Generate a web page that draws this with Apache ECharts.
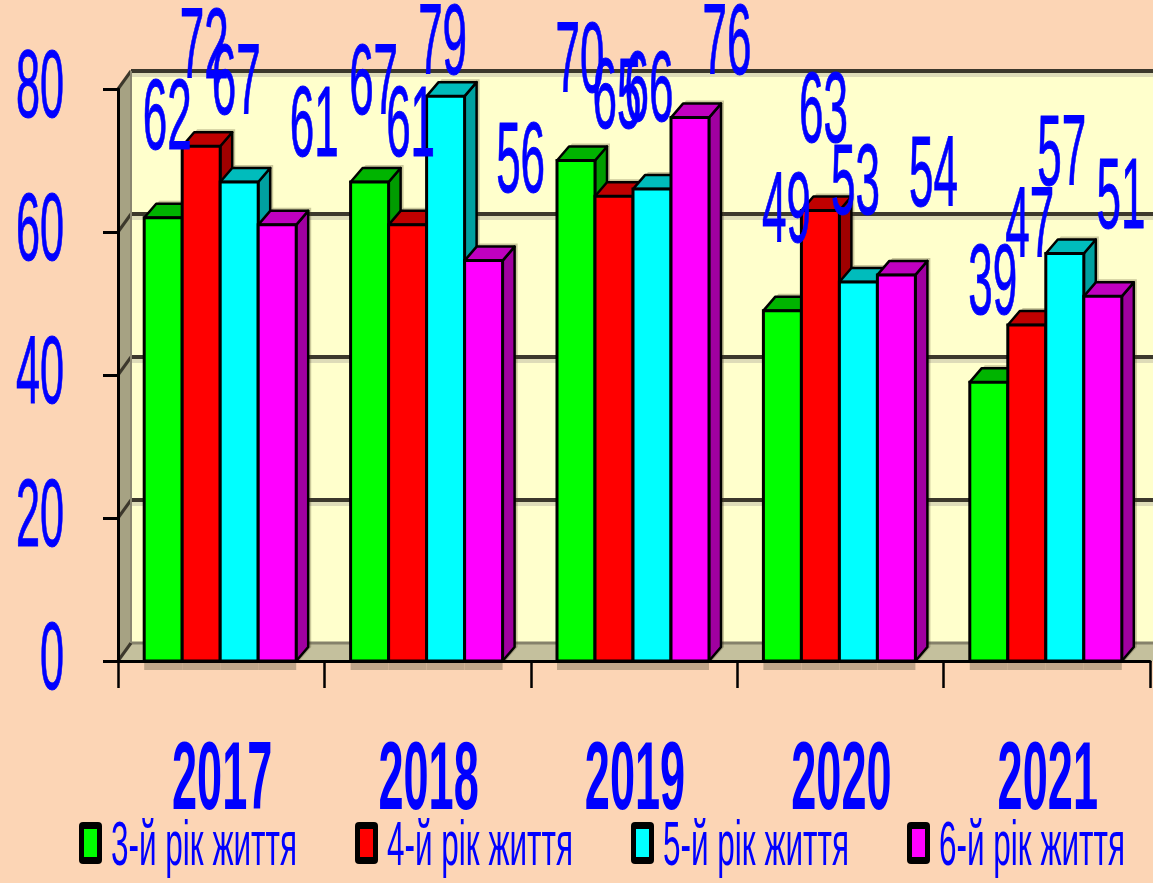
<!DOCTYPE html>
<html><head><meta charset="utf-8">
<script src="https://cdn.jsdelivr.net/npm/echarts@6/dist/echarts.min.js"></script>
<style>html,body{margin:0;padding:0;background:#fcd5b5}#c{width:1153px;height:883px}</style>
</head><body><div id="c"></div><script>
// ---- data ----
const years = ['2017', '2018', '2019', '2020', '2021'];
const seriesNames = ['3-й рік життя', '4-й рік життя', '5-й рік життя', '6-й рік життя'];
const age3 = [62, 67, 70, 49, 39];
const age4 = [72, 61, 65, 63, 47];
const age5 = [67, 79, 66, 53, 57];
const age6 = [61, 56, 76, 54, 51];
const yTicks = [0, 20, 40, 60, 80];

// ---- styles ----
const FRONT = ['#00ff00', '#ff0000', '#00ffff', '#ff00ff'];
const TOP = ['#00b400', '#c00000', '#00bcbc', '#c000c0'];
const SIDE = ['#009c00', '#a00000', '#00a0a0', '#a000a0'];
const BLUE = '#0000ff';
const FONT = '"Liberation Sans", Arial, sans-serif';
const BW = 38, DX = 12, DY = 14, WX = 13, WY = 18;
const LABEL_DX = [4, 3, -3, 37];
const seriesValues = [age3, age4, age5, age6];

function barRender(si) {
  return function (params, api) {
    const cat = api.value(0), v = api.value(1);
    const base = api.coord([cat, 0]);
    const top = api.coord([cat, v]);
    const x = base[0] - 2 * BW - 1 + si * BW;
    const y0 = base[1], yt = top[1];
    const zb = si * 10;
    const lx = Math.min(x + BW / 2 + LABEL_DX[si], api.getWidth() - 32);
    const ly = Math.max(yt - 96, 46);
    return {
      type: 'group',
      children: [
        { type: 'polygon', z2: -50 + si, shape: { points: [[x + 3, y0], [x + 3, yt - 3], [x + DX + 3, yt - DY - 3], [x + BW + DX + 3, yt - DY - 3], [x + BW + DX + 3, y0 - DY], [x + BW + 3, y0]] }, style: { fill: 'rgba(70,60,30,0.28)' } },
        { type: 'rect', z2: -40, shape: { x: x, y: y0 + 2, width: BW, height: 7 }, style: { fill: '#c0a68a' } },
        { type: 'polygon', z2: zb + 1, shape: { points: [[x + BW, yt], [x + BW + DX, yt - DY], [x + BW + DX, y0 - DY], [x + BW, y0]] }, style: { fill: SIDE[si], stroke: '#000', lineWidth: 2.5, lineJoin: 'round' } },
        { type: 'polygon', z2: zb + 2, shape: { points: [[x, yt], [x + DX, yt - DY], [x + BW + DX, yt - DY], [x + BW, yt]] }, style: { fill: TOP[si], stroke: '#000', lineWidth: 2.5, lineJoin: 'round' } },
        { type: 'rect', z2: zb + 3, shape: { x: x, y: yt, width: BW, height: y0 - yt }, style: { fill: FRONT[si], stroke: '#000', lineWidth: 3 } },
        { type: 'text', z2: 200, x: lx, y: ly, scaleX: 0.44, style: { text: String(v), fill: BLUE, stroke: BLUE, lineWidth: 1, fontSize: 100, fontFamily: FONT, align: 'center', verticalAlign: 'middle' } }
      ]
    };
  };
}

function wallRender(params, api) {
  const band = api.size([1, 0])[0];
  const c0 = api.coord([0, 0]);
  const left = c0[0] - band / 2;
  const right = left + band * years.length;
  const y0 = c0[1];
  const yTop = api.coord([0, yTicks[yTicks.length - 1]])[1];
  const children = [
    { type: 'rect', shape: { x: left + WX, y: yTop - WY, width: right - left + 40, height: y0 - yTop }, style: { fill: '#ffffcc' } },
    { type: 'polygon', shape: { points: [[left, yTop], [left + WX, yTop - WY], [left + WX, y0 - WY], [left, y0]] }, style: { fill: '#a6a283' } },
    { type: 'polygon', shape: { points: [[left, y0], [left + WX, y0 - WY], [right + WX + 40, y0 - WY], [right + 40, y0]] }, style: { fill: '#c4c09d' } },
    { type: 'line', shape: { x1: left + WX, y1: y0 - WY, x2: right + 60, y2: y0 - WY }, style: { stroke: '#85816a', lineWidth: 3 } }
  ];
  yTicks.forEach(function (t) {
    const y = api.coord([0, t])[1];
    if (t > 0) {
      children.push({ type: 'line', shape: { x1: left + WX, y1: y - WY + 4, x2: right + 60, y2: y - WY + 4 }, style: { stroke: '#dedcb8', lineWidth: 4 } });
      children.push({ type: 'line', shape: { x1: left + WX, y1: y - WY, x2: right + 60, y2: y - WY }, style: { stroke: '#3c382c', lineWidth: 4 } });
    }
    children.push({ type: 'line', shape: { x1: left, y1: y, x2: left + WX, y2: y - WY }, style: { stroke: '#3c382c', lineWidth: 3 } });
  });
  children.push({ type: 'line', shape: { x1: left + WX, y1: yTop - WY, x2: left + WX, y2: y0 - WY }, style: { stroke: '#8a8670', lineWidth: 2 } });
  return { type: 'group', children: children };
}

function yLabelRender(params, api) {
  const p = api.coord([0, api.value(1)]);
  return { type: 'text', x: 64, y: p[1] + 2, scaleX: 0.45, style: { text: String(api.value(1)), fill: BLUE, stroke: BLUE, lineWidth: 1, fontSize: 96, fontFamily: FONT, align: 'right', verticalAlign: 'middle' } };
}

function yearRender(params, api) {
  const p = api.coord([api.value(0), 0]);
  return { type: 'text', x: p[0] + 1, y: p[1] + 122, scaleX: 0.47, style: { text: years[api.value(0)], fill: BLUE, fontSize: 96, fontWeight: 'bold', fontFamily: FONT, align: 'center', verticalAlign: 'middle' } };
}

const series = [
  { type: 'custom', name: 'walls', z: 1, silent: true, clip: false, renderItem: wallRender, data: [[0, 0]] },
  { type: 'custom', name: 'yLabels', z: 6, silent: true, clip: false, renderItem: yLabelRender, data: yTicks.map(function (t) { return [0, t]; }) },
  { type: 'custom', name: 'years', z: 6, silent: true, clip: false, renderItem: yearRender, data: years.map(function (y, i) { return [i, 0]; }) }
];
seriesValues.forEach(function (vals, si) {
  series.push({
    type: 'custom', name: seriesNames[si], z: 2, clip: false,
    renderItem: barRender(si),
    data: vals.map(function (v, i) { return [i, v]; })
  });
});

const legendGraphics = seriesNames.map(function (name, i) {
  return {
    type: 'group', x: 79 + i * 276, y: 822, z: 10,
    children: [
      { type: 'rect', shape: { x: 0, y: 0, width: 23, height: 42, r: 4 }, style: { fill: '#000' } },
      { type: 'rect', shape: { x: 5, y: 7, width: 13, height: 28 }, style: { fill: FRONT[i] } },
      { type: 'text', x: 32, y: 26, scaleX: 0.5, style: { text: name, fill: BLUE, fontSize: 63, fontFamily: FONT, align: 'left', verticalAlign: 'middle' } }
    ]
  };
});

const chart = echarts.init(document.getElementById('c'), null, { renderer: 'canvas' });
chart.setOption({
  backgroundColor: '#fcd5b5',
  animation: false,
  grid: { left: 118, top: 89, width: 1032, height: 572 },
  xAxis: {
    type: 'category', data: years, z: 5,
    axisLine: { lineStyle: { color: '#000', width: 3 } },
    axisTick: { show: true, length: 27, lineStyle: { color: '#000', width: 2.5 } },
    axisLabel: { show: false }, splitLine: { show: false }
  },
  yAxis: {
    type: 'value', min: 0, max: 80, interval: 20, z: 5,
    axisLine: { show: true, lineStyle: { color: '#000', width: 3 } },
    axisTick: { show: true, length: 15, lineStyle: { color: '#000', width: 3 } },
    axisLabel: { show: false }, splitLine: { show: false }
  },
  graphic: legendGraphics,
  series: series
});
</script></body></html>
